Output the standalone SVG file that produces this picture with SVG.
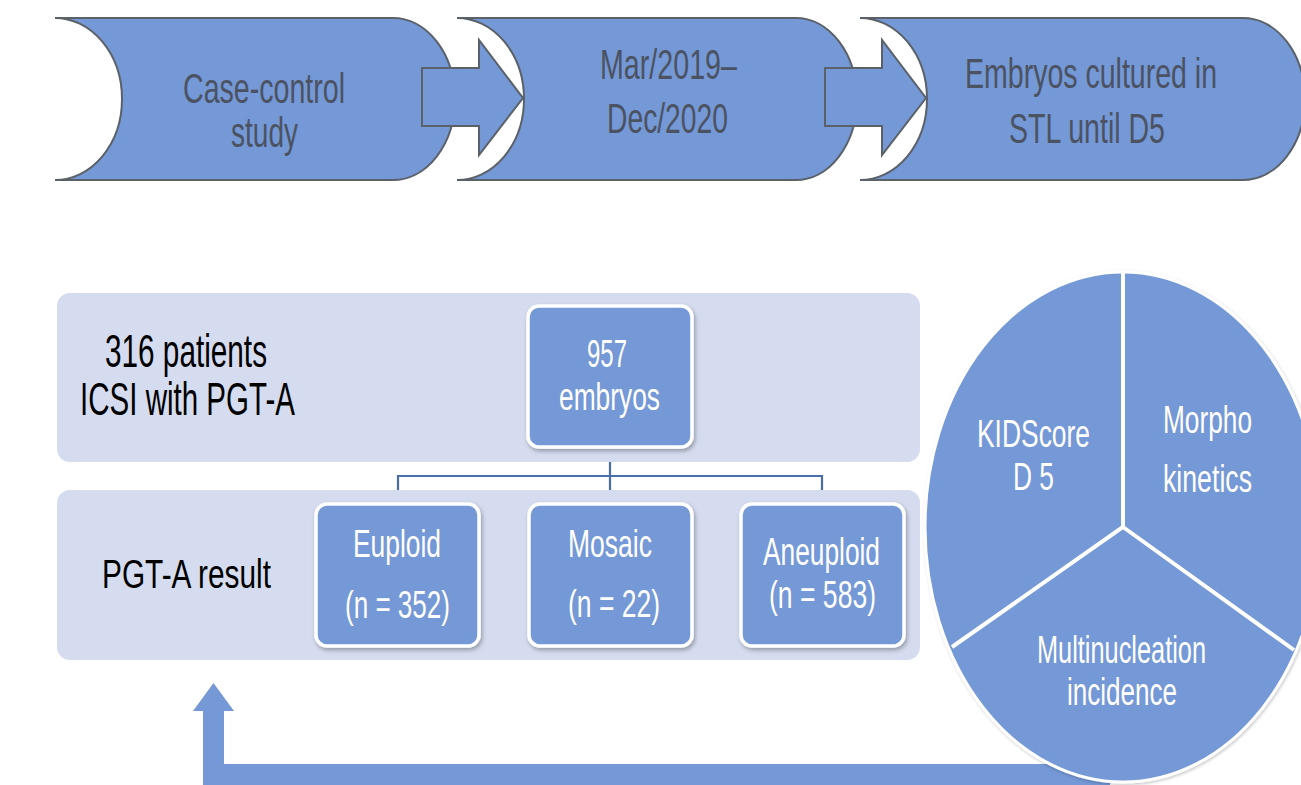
<svg xmlns="http://www.w3.org/2000/svg" width="1301" height="785" viewBox="0 0 1301 785">
<defs>
<style>
.chev{fill:#7598d6;stroke:#5b6169;stroke-width:2;}
.ctext{font-family:"Liberation Sans",Arial,sans-serif;font-size:43px;fill:#4b5363;}
.panel{fill:#d5dcef;}
.box{fill:#7598d6;stroke:#ffffff;stroke-width:3.5;}
.wtext{font-family:"Liberation Sans",Arial,sans-serif;font-size:38px;fill:#ffffff;}
.btext{font-family:"Liberation Sans",Arial,sans-serif;fill:#000000;}
.conn{fill:none;stroke:#4a6ea8;stroke-width:2.2;}
.blue{fill:#7598d6;}
.div{stroke:#ffffff;stroke-width:4;fill:none;}
</style>
<filter id="sh" x="-10%" y="-10%" width="125%" height="125%">
<feDropShadow dx="1.5" dy="2.5" stdDeviation="2" flood-color="#000" flood-opacity="0.3"/>
</filter>
<filter id="sh2" x="-10%" y="-10%" width="125%" height="125%">
<feDropShadow dx="1" dy="1.5" stdDeviation="1.5" flood-color="#000" flood-opacity="0.22"/>
</filter>
</defs>
<rect width="1301" height="785" fill="#ffffff"/>

<g id="step1">
<path class="chev" d="M55,18 H393 A62,81 0 0 1 393,180 H55 A67,81 0 0 0 55,18 Z"/>
<text class="ctext" x="183" y="103" textLength="162" lengthAdjust="spacingAndGlyphs">Case-control</text>
<text class="ctext" x="231" y="147" textLength="67" lengthAdjust="spacingAndGlyphs">study</text>
</g>
<g id="step2">
<path class="chev" d="M457,18 H796 A61,81 0 0 1 796,180 H457 A67,81 0 0 0 457,18 Z"/>
<text class="ctext" x="600" y="79" textLength="137" lengthAdjust="spacingAndGlyphs">Mar/2019–</text>
<text class="ctext" x="607" y="133" textLength="121" lengthAdjust="spacingAndGlyphs">Dec/2020</text>
</g>
<g id="step3">
<path class="chev" d="M860,18 H1243 A62,81 0 0 1 1243,180 H860 A67,81 0 0 0 860,18 Z"/>
<text class="ctext" x="965" y="88" textLength="252" lengthAdjust="spacingAndGlyphs">Embryos cultured in</text>
<text class="ctext" x="1009" y="143" textLength="156" lengthAdjust="spacingAndGlyphs">STL until D5</text>
</g>

<g id="connectors">
<path class="chev" d="M422,68 H479 V40 L523,98 L479,155 V126 H422 Z"/>
<path class="chev" d="M825,68 H882 V40 L926,98 L882,155 V126 H825 Z"/>
<path class="conn" d="M610,448 V476 M398,503 V476 H822 V503 M610,476 V503"/>
<path class="blue" d="M203,785 V711 H193 L213.5,683 L234,711 H224 V764 H1110 V785 Z"/>
</g>

<g id="panel1">
<rect class="panel" x="57" y="293" width="863" height="169" rx="13"/>
<text class="btext" x="105" y="367" font-size="46" textLength="162" lengthAdjust="spacingAndGlyphs">316 patients</text>
<text class="btext" x="80" y="415" font-size="46" textLength="215" lengthAdjust="spacingAndGlyphs">ICSI with PGT-A</text>
</g>
<g id="panel2">
<rect class="panel" x="57" y="490" width="863" height="170" rx="13"/>
<text class="btext" x="102" y="588" font-size="40" textLength="169" lengthAdjust="spacingAndGlyphs">PGT-A result</text>
</g>

<g id="embryos">
<rect class="box" x="528" y="306" width="164" height="141" rx="11" filter="url(#sh)"/>
<text class="wtext" x="587" y="367" textLength="40" lengthAdjust="spacingAndGlyphs">957</text>
<text class="wtext" x="559" y="410" textLength="101" lengthAdjust="spacingAndGlyphs">embryos</text>
</g>
<g id="euploid">
<rect class="box" x="316" y="504" width="163" height="142" rx="11" filter="url(#sh)"/>
<text class="wtext" x="353" y="557" textLength="88" lengthAdjust="spacingAndGlyphs">Euploid</text>
<text class="wtext" x="345" y="618" textLength="105" lengthAdjust="spacingAndGlyphs">(n = 352)</text>
</g>
<g id="mosaic">
<rect class="box" x="529" y="504" width="163" height="142" rx="11" filter="url(#sh)"/>
<text class="wtext" x="568" y="557" textLength="84" lengthAdjust="spacingAndGlyphs">Mosaic</text>
<text class="wtext" x="568" y="617" textLength="92" lengthAdjust="spacingAndGlyphs">(n = 22)</text>
</g>
<g id="aneuploid">
<rect class="box" x="741" y="504" width="163" height="142" rx="11" filter="url(#sh)"/>
<text class="wtext" x="763" y="565" textLength="117" lengthAdjust="spacingAndGlyphs">Aneuploid</text>
<text class="wtext" x="769" y="608" textLength="107" lengthAdjust="spacingAndGlyphs">(n = 583)</text>
</g>

<g id="pie">
<ellipse cx="1123" cy="527" rx="198" ry="255" fill="#7598d6" stroke="#ffffff" stroke-width="3" filter="url(#sh2)"/>
<path class="div" d="M1123,273 V527 L952,647 M1123,527 L1294,650"/>
<text class="wtext" x="977" y="447" textLength="113" lengthAdjust="spacingAndGlyphs">KIDScore</text>
<text class="wtext" x="1013" y="490" textLength="41" lengthAdjust="spacingAndGlyphs">D 5</text>
<text class="wtext" x="1163" y="433" textLength="89" lengthAdjust="spacingAndGlyphs">Morpho</text>
<text class="wtext" x="1163" y="492" textLength="89" lengthAdjust="spacingAndGlyphs">kinetics</text>
<text class="wtext" x="1037" y="663" font-size="36" textLength="169" lengthAdjust="spacingAndGlyphs">Multinucleation</text>
<text class="wtext" x="1067" y="705" font-size="36" textLength="110" lengthAdjust="spacingAndGlyphs">incidence</text>
</g>
</svg>
